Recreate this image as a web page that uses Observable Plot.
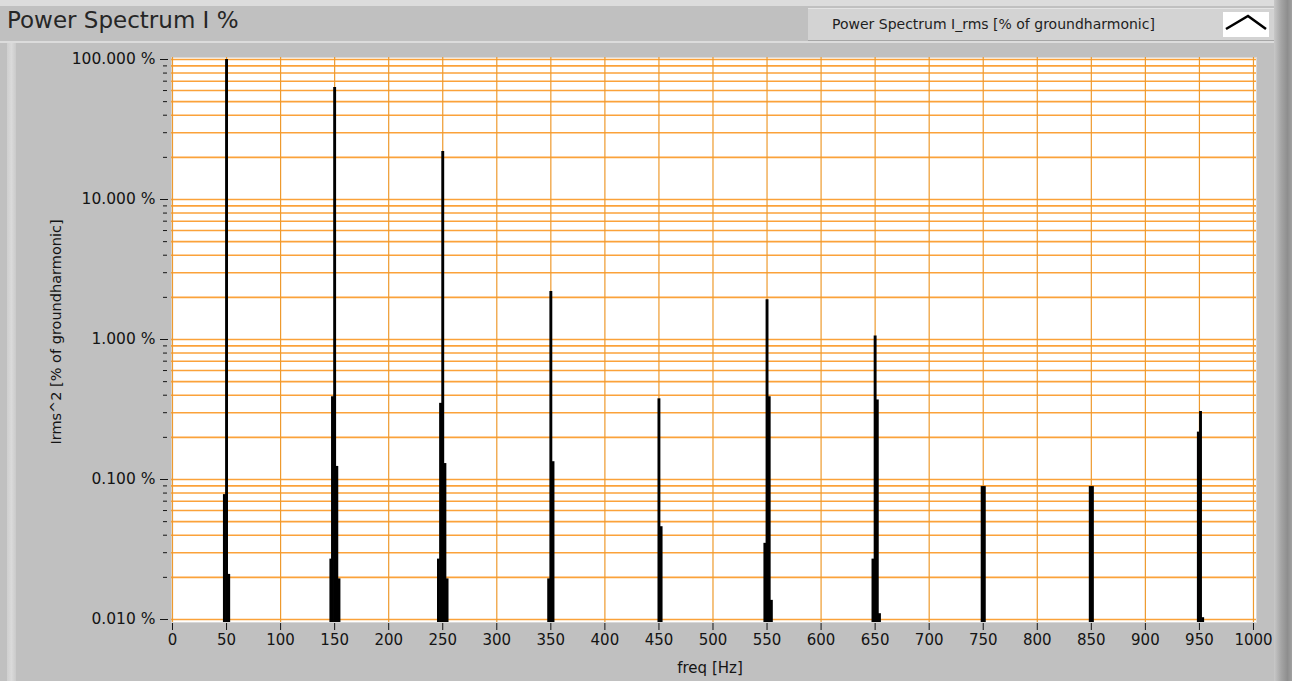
<!DOCTYPE html>
<html><head><meta charset="utf-8">
<script src="https://cdn.jsdelivr.net/npm/d3@7"></script>
<script src="https://cdn.jsdelivr.net/npm/@observablehq/plot@0.6"></script>
<style>
html,body{margin:0;padding:0;background:#c0c0c0;}
#wrap{position:relative;width:1292px;height:681px;overflow:hidden;background:#c0c0c0;font-family:"DejaVu Sans",sans-serif;color:#1e1e1e;}
#topband{position:absolute;left:0;top:0;width:1292px;height:6px;background:#dcdcdc;}
#title{position:absolute;left:7px;top:6px;font-size:23px;line-height:28px;white-space:nowrap;color:#262626;}
#legend{position:absolute;left:808px;top:8px;width:466px;height:31px;background:#d3d3d3;border-top:1px solid #e4e4e4;border-bottom:1px solid #a6a6a6;}
#legtext{position:absolute;left:24px;top:7px;font-size:14px;line-height:17px;white-space:nowrap;color:#1e1e1e;}
#legicon{position:absolute;left:415px;top:3px;width:46px;height:25px;background:#fff;}
#paneltop{position:absolute;left:0;top:41px;width:1274px;height:2px;background:#dcdcdc;}
#leftstrip{position:absolute;left:7px;top:43px;width:9px;height:638px;background:linear-gradient(to right,#cfcfcf,#dadada,#cacaca);}
#rightstrip{position:absolute;left:1274px;top:0;width:18px;height:681px;background:linear-gradient(to right,#c8c8c8,#a4a4a4 40%,#8e8e8e 75%,#a0a0a0);}
#chart{position:absolute;left:0;top:43px;width:1292px;height:638px;}
</style>
</head>
<body>
<div id="wrap">
  <div id="topband"></div>
  <div id="paneltop"></div>
  <div id="leftstrip"></div>
  <div id="rightstrip"></div>
  <div id="title">Power Spectrum I %</div>
  <div id="legend">
    <div id="legtext">Power Spectrum I_rms [% of groundharmonic]</div>
    <div id="legicon"><svg width="46" height="25"><polyline points="3,17 25,4 43,17" fill="none" stroke="#000" stroke-width="2.6"/></svg></div>
  </div>
  <div id="chart"></div>
</div>
<script>
// ---- data ----
const freqHz = [48, 50, 52,
  146.5, 148, 150, 152, 154,
  246, 248, 250, 252, 254,
  348, 350, 352,
  450, 452,
  548, 550, 552, 554,
  648, 650, 652, 654,
  749, 751,
  849, 851,
  949, 951, 953];
const powerPct = [0.078, 100, 0.021,
  0.027, 0.39, 63, 0.124, 0.0195,
  0.027, 0.35, 22, 0.13, 0.0195,
  0.0195, 2.2, 0.134,
  0.377, 0.046,
  0.035, 1.92, 0.39, 0.0137,
  0.027, 1.06, 0.37, 0.011,
  0.089, 0.089,
  0.089, 0.089,
  0.218, 0.306, 0.0103];
const xTicks = [0,50,100,150,200,250,300,350,400,450,500,550,600,650,700,750,800,850,900,950,1000];
const yMajor = [100, 10, 1, 0.1, 0.01];
const yMajorLabels = ["100.000 %", "10.000 %", "1.000 %", "0.100 %", "0.010 %"];
const yMinor = [];
for (const d of [0.01, 0.1, 1, 10]) for (let k = 2; k <= 9; k++) yMinor.push(+(d * k).toPrecision(3));
const yGrid = yMajor.concat(yMinor);
const titleY = "Irms^2 [% of groundharmonic]";
const titleX = "freq [Hz]";

const spectrum = freqHz.map((f, i) => ({f, v: powerPct[i]}));
const yLo = Math.pow(10, -2 - 3/140), yHi = Math.pow(10, 2 + 2/140);
const labelOf = new Map(yMajor.map((v, i) => [v, yMajorLabels[i]]));

const chart = Plot.plot({
  width: 1292, height: 638,
  marginLeft: 171, marginRight: 36, marginTop: 14, marginBottom: 59,
  style: {fontFamily: "DejaVu Sans, sans-serif", fontSize: "15px", background: "transparent", color: "#141414"},
  x: {domain: [-0.925, 1002.8]},
  y: {type: "log", domain: [yLo, yHi]},
  marks: [
    Plot.frame({fill: "#ffffff", stroke: "#d8d8d8"}),
    Plot.ruleY(yGrid, {stroke: "#fba23a", strokeWidth: 1.6}),
    Plot.ruleX(xTicks, {stroke: "#ee9a2e", strokeWidth: 1.2}),
    Plot.ruleX(spectrum, {x: "f", y1: yLo, y2: "v", stroke: "#000", strokeWidth: 2.9}),
    Plot.axisY(yMajor, {tickSize: 8, tickPadding: 5, dx: -3, fontSize: 15.5, tickFormat: d => labelOf.get(d), label: null}),
    Plot.axisY(yMinor, {tickSize: 4, dx: -4, tickFormat: () => "", label: null}),
    Plot.axisX(xTicks, {tickSize: 7, tickPadding: 4, dy: 1, fontSize: 15, tickFormat: d => String(d), label: null}),
    Plot.text([titleY], {frameAnchor: "left", dx: -115, dy: -8, rotate: -90, fontSize: 14.5, textAnchor: "middle", lineAnchor: "middle", text: d => d}),
    Plot.text([titleX], {frameAnchor: "bottom", dx: -4, dy: 46, fontSize: 15, textAnchor: "middle", lineAnchor: "middle", text: d => d})
  ]
});
document.getElementById("chart").appendChild(chart);
</script>
</body></html>
